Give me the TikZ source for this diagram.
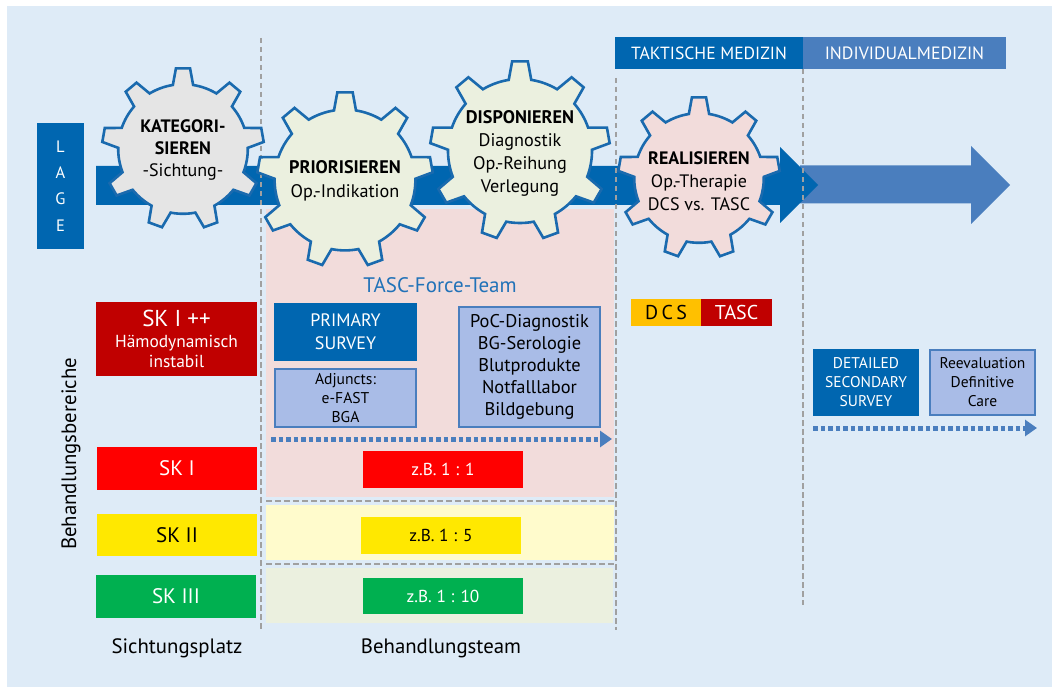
\documentclass[tikz,border=0pt]{standalone}
\usepackage{fontspec}
\setmainfont{PT Sans}
\usetikzlibrary{arrows.meta}

\definecolor{bgblue}{HTML}{DEEBF7}
\definecolor{dblue}{HTML}{0066B0}
\definecolor{mblue}{HTML}{4A7EBE}
\definecolor{gearblue}{HTML}{1A6AAE}
\definecolor{pinkbg}{HTML}{F2DCDB}
\definecolor{gearcream}{HTML}{EBF0DF}
\definecolor{geargrey}{HTML}{E5E5E5}
\definecolor{yellowbg}{HTML}{FFFBCC}
\definecolor{greenbg}{HTML}{EBF0DF}
\definecolor{darkred}{HTML}{C00000}
\definecolor{skred}{HTML}{FF0000}
\definecolor{skyellow}{HTML}{FFE800}
\definecolor{skgreen}{HTML}{00B050}
\definecolor{dcsorange}{HTML}{FFC000}
\definecolor{lavender}{HTML}{A9BCE7}
\definecolor{dashgrey}{HTML}{A0A0A0}
\definecolor{tascblue}{HTML}{2172B8}

\newcommand{\fs}[2]{\fontsize{#1}{#2}\selectfont}

% cog wheel: centre x, centre y, outer radius, fill colour, name
\newcommand{\cogwheel}[5]{%
  \pgfmathsetmacro\cogR{#3}%
  \pgfmathsetmacro\cogr{0.8*#3}%
  \begin{scope}[shift={(#1,#2)}]
    \draw[cogline, fill=#4] ({21}:\cogr)
      \foreach \a in {30,70,...,350} {
        -- ({\a-9}:\cogr) -- ({\a-5}:\cogR) -- ({\a+5}:\cogR) -- ({\a+9}:\cogr)
        arc[start angle={\a+9}, end angle={\a+31}, radius=\cogr]
      } -- cycle;
    \coordinate (#5) at (0,0);
  \end{scope}}

\tikzset{
  cogline/.style={draw=gearblue, line width=2.6pt, line join=miter},
  box/.style={rectangle, inner sep=0pt, align=center, anchor=center},
  framed/.style={box, fill=lavender, draw=mblue, line width=1.6pt},
  sep/.style={draw=dashgrey, line width=2.8pt, dash pattern=on 5.5pt off 3.5pt},
  flow/.style={draw=mblue, line width=5pt, dash pattern=on 4.5pt off 3pt,
    -{Triangle[length=12pt, width=16pt]}},
  label/.style={inner sep=0pt, align=center},
}

\begin{document}
\begin{tikzpicture}[x=1pt, y=-1pt]
\useasboundingbox (0,0) rectangle (1052,687);
\fill[bgblue] (7,6) rectangle (1052,687);

% treatment areas
\fill[pinkbg] (266,209) rectangle (614,497);
\fill[yellowbg] (266,505) rectangle (614,560);
\fill[greenbg] (266,568) rectangle (613,623);
\draw[sep] (266,501) -- (614,501);
\draw[sep] (266,564) -- (614,564);

% main process arrows
\fill[mblue] (800,165.5) -- (971,165.5) -- (971,146) -- (1010,185) -- (971,224)
  -- (971,203.5) -- (800,203.5) -- cycle;
\fill[dblue] (96,166) -- (780,166) -- (780,147) -- (818,185) -- (780,223)
  -- (780,205) -- (96,205) -- cycle;

% phase separators
\draw[sep] (261,38) -- (261,630);
\draw[sep] (616,78) -- (616,630);
\draw[sep] (803,69) -- (803,605);

% cog wheels
\cogwheel{183}{149}{81}{geargrey}{g1}
\node[label, font=\fs{18}{22}] (t1) at (183,150)
  {\textbf{KATEGORI-}\\\textbf{SIEREN}\\-Sichtung-};
\cogwheel{345}{180}{88}{gearcream}{g2}
\node[label, font=\fs{18.2}{24}] (t2) at (345,181)
  {\textbf{PRIORISIEREN}\\Op.-Indikation};
\cogwheel{520}{151}{90}{gearcream}{g3}
\node[label, font=\fs{18.2}{23}] (t3) at (520,153)
  {\textbf{DISPONIEREN}\\Diagnostik\\Op.-Reihung\\Verlegung};
\cogwheel{699}{178}{81}{pinkbg}{g4}
\node[label, font=\fs{18}{23}] (t4) at (699,181)
  {\textbf{REALISIEREN}\\Op.-Therapie\\DCS vs. TASC};

% situation box
\node[box, fill=dblue, text=white, font=\fs{16.5}{26.3}, minimum width=47pt, minimum height=126pt]
  (lage) at (60.5,186) {L\\A\\G\\E};

% phase headers
\node[box, fill=dblue, text=white, font=\fs{17.6}{20}, minimum width=188pt, minimum height=32pt]
  (takt) at (709,53) {TAKTISCHE MEDIZIN};
\node[box, fill=mblue, text=white, font=\fs{17.8}{20}, minimum width=203pt, minimum height=32pt]
  (indiv) at (904.5,53) {INDIVIDUALMEDIZIN};

% triage categories
\node[box, fill=darkred, text=white, font=\fs{17.4}{20.5}, minimum width=161pt, minimum height=74pt]
  (skpp) at (176.5,339) {{\fs{23}{23}SK I ++}\\Hämodynamisch\\instabil};
\node[box, fill=skred, text=white, font=\fs{21}{22}, minimum width=160pt, minimum height=43pt]
  (sk1) at (177,468.5) {SK I};
\node[box, fill=skyellow, text=black, font=\fs{21}{22}, minimum width=160pt, minimum height=42pt]
  (sk2) at (177,535) {SK II};
\node[box, fill=skgreen, text=white, font=\fs{21}{22}, minimum width=160pt, minimum height=43pt]
  (sk3) at (176,596.5) {SK III};

% team ratios
\node[box, fill=skred, text=white, font=\fs{17.3}{18}, minimum width=160pt, minimum height=37pt]
  (r1) at (443,469.5) {z.B. 1 : 1};
\node[box, fill=skyellow, text=black, font=\fs{17.3}{18}, minimum width=160pt, minimum height=37pt]
  (r2) at (441,535.5) {z.B. 1 : 5};
\node[box, fill=skgreen, text=white, font=\fs{17.3}{18}, minimum width=160pt, minimum height=36pt]
  (r3) at (443,596) {z.B. 1 : 10};

% TASC force team
\node[label, text=tascblue, font=\fs{21}{22}] (tft) at (440,285) {TASC-Force-Team};
\node[box, fill=dblue, text=white, font=\fs{18}{23}, minimum width=143pt, minimum height=58pt]
  (prim) at (345.5,332) {PRIMARY\\SURVEY};
\node[framed, font=\fs{15.6}{19}, minimum width=141pt, minimum height=58pt]
  (adj) at (345.5,398) {Adjuncts:\\e-FAST\\BGA};
\node[framed, font=\fs{18.4}{22}, minimum width=141pt, minimum height=120pt]
  (poc) at (529.5,367) {PoC-Diagnostik\\BG-Serologie\\Blutprodukte\\Notfalllabor\\Bildgebung};

% damage control vs. total care
\node[box, fill=dcsorange, text=black, font=\fs{20}{20}, minimum width=70pt, minimum height=27pt]
  (dcs) at (666,312.5) {D\,C\,S};
\node[box, fill=darkred, text=white, font=\fs{20}{20}, minimum width=71pt, minimum height=27pt]
  (tasc) at (736.5,312.5) {TASC};

% individual medicine
\node[box, fill=dblue, text=white, font=\fs{15.5}{19}, minimum width=106pt, minimum height=67pt]
  (dss) at (866,382.5) {DETAILED\\SECONDARY\\SURVEY};
\node[framed, font=\fs{15.5}{19}, minimum width=105pt, minimum height=65pt]
  (reev) at (982.5,382.5) {Reevaluation\\Definitive\\Care};

% flow arrows
\coordinate (f1a) at (271,439);
\coordinate (f1b) at (612,439);
\draw[flow] (f1a) -- (f1b);
\coordinate (f2a) at (813,428);
\coordinate (f2b) at (1037,428);
\draw[flow] (f2a) -- (f2b);

% axis captions
\node[label, rotate=90, font=\fs{20.8}{22}] (bb) at (71,454) {Behandlungsbereiche};
\node[label, font=\fs{20.8}{22}] (sp) at (177,648) {Sichtungsplatz};
\node[label, font=\fs{20.8}{22}] (bt) at (441,648) {Behandlungsteam};
\end{tikzpicture}
\end{document}
